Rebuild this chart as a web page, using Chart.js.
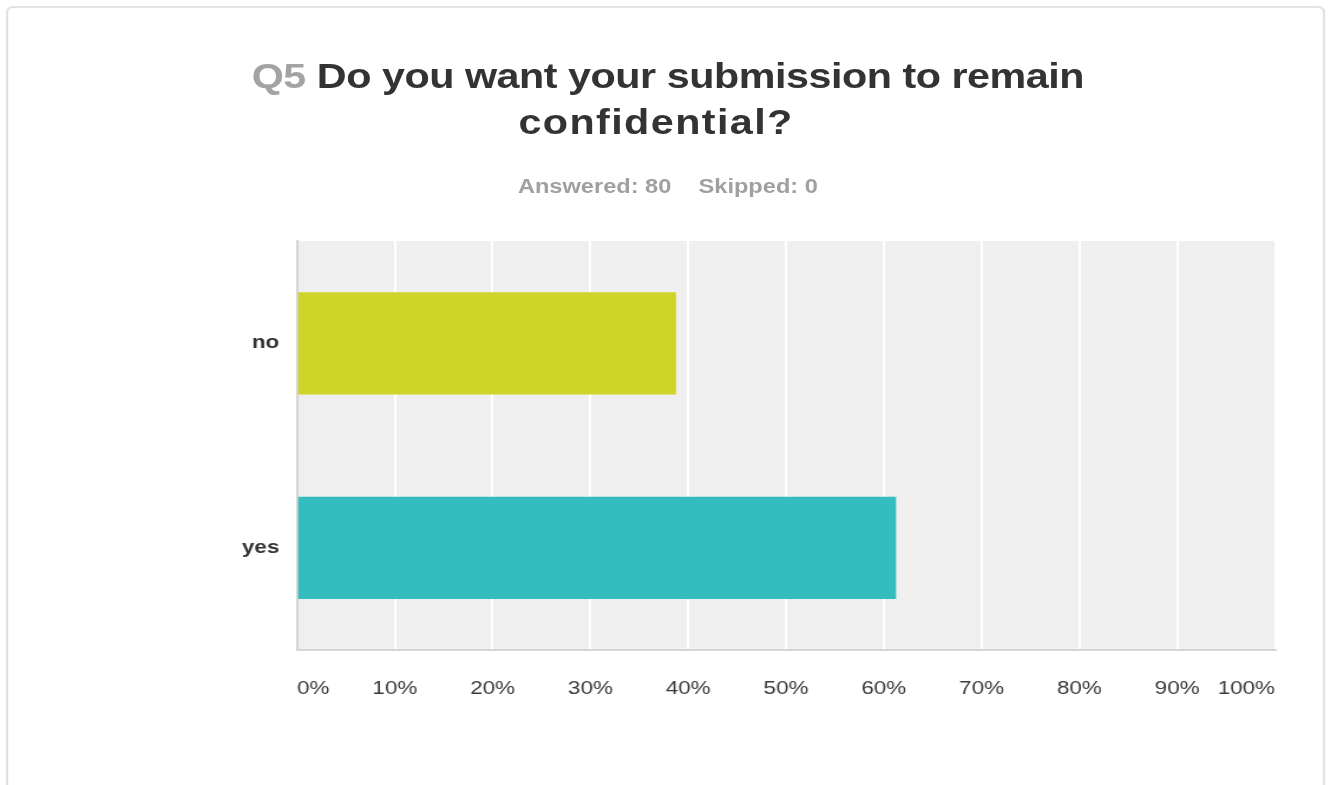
<!DOCTYPE html>
<html>
<head>
<meta charset="utf-8">
<script src="https://cdn.jsdelivr.net/npm/chart.js@4.4.1/dist/chart.umd.min.js"></script>
<style>
  html, body { margin: 0; padding: 0; background: #fff; overflow: hidden; }
  body { width: 1331px; height: 785px; position: relative; font-family: "Liberation Sans", Arial, sans-serif; }
  /* the survey card is laid out at 1128px and widened to the page */
  #stage { position: absolute; left: 0; top: 0; width: 1128px; height: 785px; transform: scaleX(1.18); transform-origin: 0 0; }
  .card { position: absolute; left: 5px; top: 6px; width: 1118px; height: 900px; border: 2px solid #e2e2e2; border-radius: 6px; box-sizing: border-box; }
  .title { position: absolute; white-space: nowrap; transform: translateX(-50%); font-size: 35px; line-height: 35px; font-weight: bold; color: #333; }
  .title .qnum { color: #a3a3a3; }
  .stats { position: absolute; left: 566px; top: 176px; transform: translateX(-50%); white-space: nowrap; font-size: 20px; line-height: 20px; font-weight: bold; color: #a0a0a0; }
  .stats span + span { margin-left: 23px; }
  canvas { position: absolute; left: 0; top: 0; }
</style>
</head>
<body>
<div id="stage">
  <div class="card"></div>
  <div class="title" style="left:566px; top:58px; letter-spacing:-0.4px;"><span class="qnum">Q5</span> Do you want your submission to remain</div>
  <div class="title" style="left:556px; top:104px; letter-spacing:1.2px;">confidential?</div>
  <div class="stats"><span>Answered: 80</span><span>Skipped: 0</span></div>
  <canvas id="chart" width="1128" height="785"></canvas>
</div>
<script>
// --- DADOS ---
const answers = ['no', 'yes'];
const answerPercent = [38.75, 61.25];
const answerColors = ['#cfd427', '#33bdbf'];
const tickValues = [0, 10, 20, 30, 40, 50, 60, 70, 80, 90, 100];

// fundo cinza da área do gráfico
const plotBackground = {
  id: 'plotBackground',
  beforeDraw(chart) {
    const { ctx, chartArea: a } = chart;
    ctx.save();
    ctx.fillStyle = '#efefef';
    ctx.fillRect(a.left, a.top, a.right - a.left, a.bottom - a.top);
    ctx.restore();
  }
};

new Chart(document.getElementById('chart').getContext('2d'), {
  type: 'bar',
  data: {
    labels: answers,
    datasets: [{
      data: answerPercent,
      backgroundColor: answerColors,
      borderWidth: 0,
      barPercentage: 0.5,
      categoryPercentage: 1.0
    }]
  },
  options: {
    indexAxis: 'y',
    responsive: false,
    animation: false,
    layout: { padding: { top: 241, right: 47.5, bottom: 0, left: 0 } },
    plugins: { legend: { display: false }, tooltip: { enabled: false } },
    scales: {
      x: {
        min: tickValues[0],
        max: tickValues[tickValues.length - 1],
        afterBuildTicks: (scale) => { scale.ticks = tickValues.map(v => ({ value: v })); },
        afterFit: (scale) => { scale.height = 135; },
        grid: { color: '#ffffff', lineWidth: 2, drawTicks: false },
        border: { color: '#d5d5d5', width: 2 },
        ticks: {
          align: 'inner',
          padding: 27,
          color: '#3a3a3a',
          font: { family: '"Liberation Sans", Arial, sans-serif', size: 19 },
          callback: (v) => v + '%'
        }
      },
      y: {
        afterFit: (scale) => { scale.width = 251.7; },
        grid: { display: false, drawTicks: false },
        border: { color: '#d5d5d5', width: 2 },
        ticks: {
          padding: 15,
          color: '#333',
          font: { family: '"Liberation Sans", Arial, sans-serif', size: 19, weight: 'bold' }
        }
      }
    }
  },
  plugins: [plotBackground]
});
</script>
</body>
</html>
